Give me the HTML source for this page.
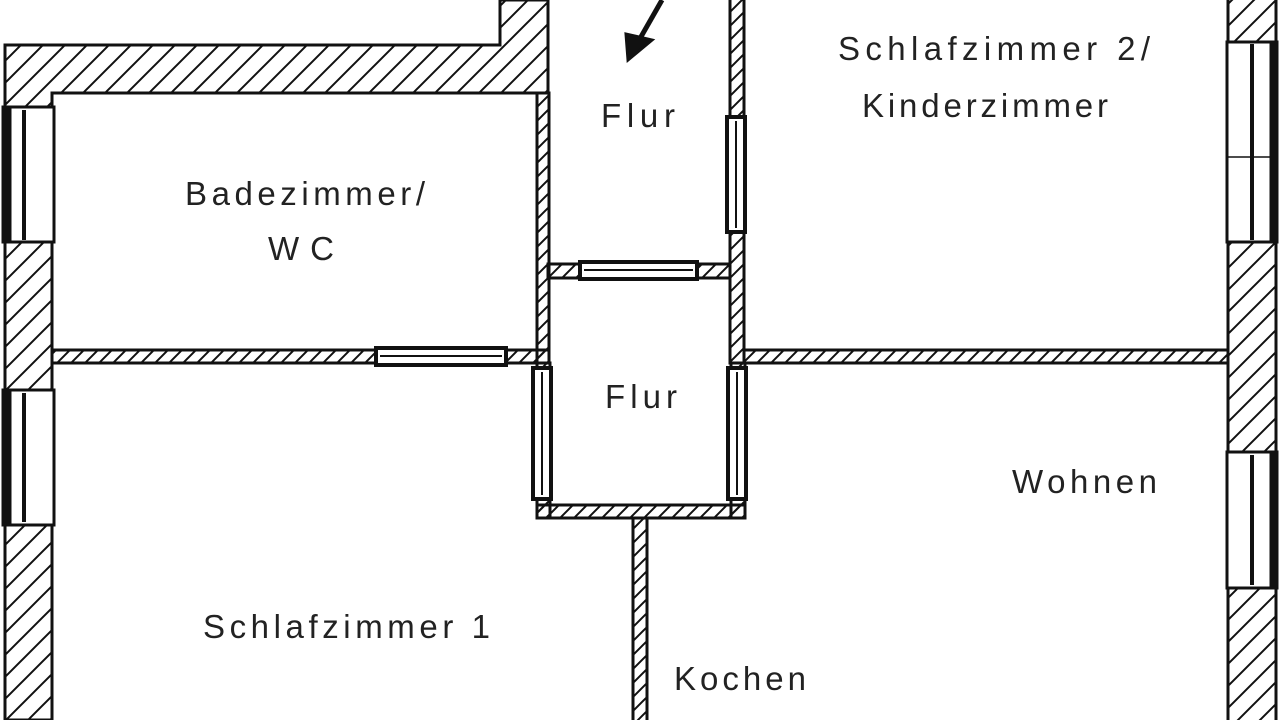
<!DOCTYPE html>
<html><head><meta charset="utf-8"><style>
html,body{margin:0;padding:0;background:#fff;width:1280px;height:720px;overflow:hidden}
text{font-family:"Liberation Sans",sans-serif;font-size:33px;fill:#222}
</style></head><body>
<svg width="1280" height="720" viewBox="0 0 1280 720" xmlns="http://www.w3.org/2000/svg">
<defs>
<pattern id="h" patternUnits="userSpaceOnUse" width="22" height="22">
<path d="M-2,24 L24,-2 M-13,13 L13,-13 M9,35 L35,9" stroke="#111" stroke-width="2"/>
</pattern>
<pattern id="hs" patternUnits="userSpaceOnUse" width="14" height="14">
<path d="M-2,16 L16,-2 M-9,9 L9,-9 M5,23 L23,5" stroke="#111" stroke-width="2"/>
</pattern>
</defs>
<g stroke="#111" stroke-width="3">
<path d="M5,45 L500,45 L500,0 L548,0 L548,93 L52,93 L52,720 L5,720 Z" fill="url(#h)"/>
<rect x="1228" y="-5" width="48" height="730" fill="url(#h)"/>
<rect x="537" y="93" width="12" height="270" fill="url(#hs)"/>
<rect x="730" y="-5" width="14" height="368" fill="url(#hs)"/>
<rect x="548" y="264" width="182" height="14" fill="url(#hs)"/>
<rect x="52" y="350" width="497" height="13" fill="url(#hs)"/>
<rect x="744" y="350" width="484" height="13" fill="url(#hs)"/>
<rect x="537" y="363" width="13" height="155" fill="url(#hs)"/>
<rect x="731" y="363" width="14" height="155" fill="url(#hs)"/>
<rect x="537" y="505" width="208" height="13" fill="url(#hs)"/>
<rect x="633" y="518" width="14" height="210" fill="url(#hs)"/>
</g>
<g fill="#fff" stroke="#111">
<rect x="376" y="348" width="130" height="17" stroke-width="4"/>
<line x1="380" y1="356" x2="502" y2="356" stroke-width="2"/>
<rect x="580" y="262" width="117" height="17" stroke-width="4"/>
<line x1="584" y1="270" x2="693" y2="270" stroke-width="2"/>
<rect x="533" y="368" width="18" height="131" stroke-width="4"/>
<line x1="542" y1="372" x2="542" y2="495" stroke-width="2"/>
<rect x="728" y="368" width="18" height="131" stroke-width="4"/>
<line x1="737" y1="372" x2="737" y2="495" stroke-width="2"/>
<rect x="727" y="117" width="18" height="115" stroke-width="4"/>
<line x1="736" y1="121" x2="736" y2="228" stroke-width="2"/>
<rect x="3" y="107" width="51" height="135" stroke-width="3"/>
<rect x="3" y="107" width="8" height="135" fill="#111"/>
<line x1="24" y1="110" x2="24" y2="240" stroke-width="4"/>
<rect x="3" y="390" width="51" height="135" stroke-width="3"/>
<rect x="3" y="390" width="8" height="135" fill="#111"/>
<line x1="24" y1="393" x2="24" y2="522" stroke-width="4"/>
<rect x="1227" y="42" width="50" height="200" stroke-width="3"/>
<line x1="1252" y1="44" x2="1252" y2="240" stroke-width="4"/>
<line x1="1227" y1="157" x2="1277" y2="157" stroke-width="1.5"/>
<rect x="1270" y="42" width="7" height="200" fill="#111"/>
<rect x="1227" y="452" width="50" height="136" stroke-width="3"/>
<line x1="1252" y1="455" x2="1252" y2="585" stroke-width="4"/>
<rect x="1270" y="452" width="7" height="136" fill="#111"/>
</g>
<g stroke="#111" stroke-width="5" fill="#111">
<line x1="662" y1="0" x2="630" y2="56"/>
<path d="M626,34 L628,60 L652,40 Z" stroke-width="3"/>
</g>
<text x="185" y="205" textLength="240" lengthAdjust="spacing">Badezimmer/</text>
<text x="268" y="260" textLength="66" lengthAdjust="spacing">WC</text>
<text x="601" y="127" textLength="74" lengthAdjust="spacing">Flur</text>
<text x="605" y="408" textLength="72" lengthAdjust="spacing">Flur</text>
<text x="838" y="60" textLength="312" lengthAdjust="spacing">Schlafzimmer 2/</text>
<text x="862" y="117" textLength="246" lengthAdjust="spacing">Kinderzimmer</text>
<text x="1012" y="493" textLength="145" lengthAdjust="spacing">Wohnen</text>
<text x="203" y="638" textLength="287" lengthAdjust="spacing">Schlafzimmer 1</text>
<text x="674" y="690" textLength="132" lengthAdjust="spacing">Kochen</text>
</svg>
</body></html>
